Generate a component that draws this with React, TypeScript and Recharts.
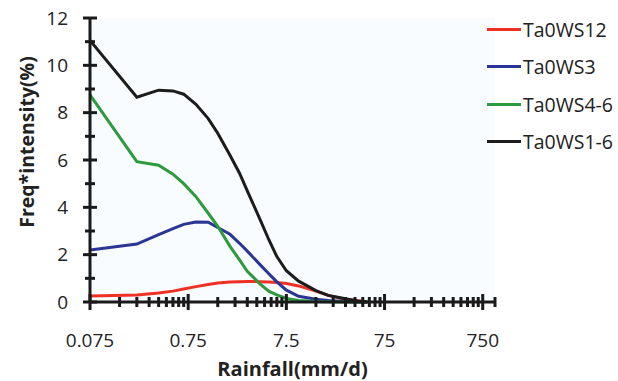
import { LineChart, Line, XAxis, YAxis, CartesianGrid, Legend, Label } from "recharts";

// rainfall bins (mm/d) and the four series
const rainfall = [0.075, 0.225, 0.375, 0.525, 0.675, 0.9, 1.2, 1.5, 2, 2.5, 3, 4, 5, 6, 7.5, 10, 15, 20, 30, 40, 50];
const ta0ws12 = [0.25, 0.3, 0.38, 0.46, 0.55, 0.65, 0.74, 0.8, 0.84, 0.86, 0.87, 0.86, 0.84, 0.82, 0.78, 0.68, 0.46, 0.28, 0.12, 0.05, 0];
const ta0ws3 = [2.2, 2.45, 2.85, 3.1, 3.28, 3.38, 3.37, 3.15, 2.86, 2.48, 2.15, 1.6, 1.18, 0.85, 0.5, 0.24, 0.12, 0.06, 0.02, 0, 0];
const ta0ws46 = [8.75, 5.93, 5.78, 5.4, 5.0, 4.45, 3.75, 3.2, 2.35, 1.78, 1.3, 0.78, 0.45, 0.3, 0.15, 0.06, 0.02, 0.01, 0, 0, 0];
const ta0ws16 = [11.05, 8.65, 8.95, 8.92, 8.78, 8.35, 7.75, 7.13, 6.2, 5.44, 4.7, 3.53, 2.61, 1.92, 1.32, 0.88, 0.48, 0.28, 0.14, 0.04, 0];

const seriesNames = ["Ta0WS12", "Ta0WS3", "Ta0WS4-6", "Ta0WS1-6"];
const seriesColors = ["#ee3124", "#2b3595", "#2e9a3e", "#1c1c1c"];

const xMajorTicks = [0.075, 0.75, 7.5, 75, 750];
const xTickLabels = ["0.075", "0.75", "7.5", "75", "750"];
const yTicks = [0, 1, 2, 3, 4, 5, 6, 7, 8, 9, 10, 11, 12];
const yTickLabels = ["0", "", "2", "", "4", "", "6", "", "8", "", "10", "", "12"];

const minorTicks: number[] = [];
xMajorTicks.forEach((m) => {
  for (let k = 2; k <= 9; k++) if (m * k < 1000) minorTicks.push(m * k);
});
const xTicks = [...xMajorTicks, ...minorTicks, 1000];

const data = rainfall.map((x, i) => ({
  x,
  "Ta0WS12": ta0ws12[i],
  "Ta0WS3": ta0ws3[i],
  "Ta0WS4-6": ta0ws46[i],
  "Ta0WS1-6": ta0ws16[i],
}));

const font = "'Open Sans', sans-serif";
const ink = "#1a1a1a";

const XTick = ({ x, y, payload }: any) => {
  const idx = xMajorTicks.indexOf(payload.value);
  const major = idx >= 0;
  const h = major ? 8 : 5;
  return (
    <g>
      <line x1={x} x2={x} y1={y - h} y2={y + h} stroke={ink} strokeWidth={3} />
      {major && (
        <text x={x} y={y + 45} textAnchor="middle" fontSize={19} fontFamily={font} fill="#222">
          {xTickLabels[idx]}
        </text>
      )}
    </g>
  );
};

const YTick = ({ x, y, payload }: any) => {
  const label = yTickLabels[yTicks.indexOf(payload.value)];
  const h = label ? 7 : 5;
  return (
    <g>
      <line x1={x - h} x2={x + h} y1={y} y2={y} stroke={ink} strokeWidth={3} />
      {label && (
        <text x={x - 22} y={y} dy="0.35em" textAnchor="end" fontSize={19} fontFamily={font} fill="#222">
          {label}
        </text>
      )}
    </g>
  );
};

const renderLegend = (props: any) => {
  const items = [...props.payload].sort(
    (a: any, b: any) => seriesNames.indexOf(a.value) - seriesNames.indexOf(b.value)
  );
  return (
    <div style={{ fontFamily: font, fontSize: 19.5, color: "#222" }}>
      {items.map((p: any) => (
        <div key={p.value} style={{ display: "flex", alignItems: "center", height: 37.3 }}>
          <span style={{ width: 34, height: 3, background: p.color, display: "inline-block" }} />
          <span style={{ marginLeft: 2 }}>{p.value}</span>
        </div>
      ))}
    </div>
  );
};

export default function App() {
  return (
    <div style={{ position: "absolute", left: 0, top: 0, width: 618, height: 381, background: "#fff" }}>
      <LineChart width={618} height={381} data={data} margin={{ top: 18, right: 123, bottom: 0, left: 0 }}>
        <CartesianGrid horizontal={false} vertical={false} fill="#f8fcfe" stroke="none" />
        <XAxis
          dataKey="x"
          type="number"
          scale="log"
          domain={[0.075, 1000]}
          allowDataOverflow
          ticks={xTicks}
          interval={0}
          height={79}
          tickSize={0}
          tickMargin={0}
          tickLine={false}
          tick={<XTick />}
          axisLine={{ stroke: ink, strokeWidth: 3 }}
        >
          <Label
            content={({ viewBox }: any) => (
              <text
                x={viewBox.x + viewBox.width / 2}
                y={viewBox.y + 74}
                textAnchor="middle"
                fontSize={20}
                fontWeight="bold"
                fontFamily={font}
                fill="#222"
              >
                Rainfall(mm/d)
              </text>
            )}
          />
        </XAxis>
        <YAxis
          type="number"
          domain={[0, 12]}
          ticks={yTicks}
          interval={0}
          width={90}
          tickSize={0}
          tickMargin={0}
          tickLine={false}
          tick={<YTick />}
          axisLine={{ stroke: ink, strokeWidth: 3 }}
        >
          <Label
            content={({ viewBox }: any) => {
              const cx = viewBox.x + 27;
              const cy = viewBox.y + 124;
              return (
                <text
                  x={cx}
                  y={cy}
                  dy="0.35em"
                  transform={`rotate(-90 ${cx} ${cy})`}
                  textAnchor="middle"
                  fontSize={19.5}
                  fontWeight="bold"
                  fontFamily={font}
                  fill="#222"
                >
                  Freq*intensity(%)
                </text>
              );
            }}
          />
        </YAxis>
        <Legend
          content={renderLegend}
          layout="vertical"
          align="center"
          verticalAlign="middle"
          wrapperStyle={{ position: "absolute", left: 487, top: 11, width: 131, height: 150 }}
        />
        {seriesNames.map((name, i) => (
          <Line
            key={name}
            type="linear"
            dataKey={name}
            stroke={seriesColors[i]}
            strokeWidth={3}
            dot={false}
            isAnimationActive={false}
          />
        ))}
      </LineChart>
    </div>
  );
}
